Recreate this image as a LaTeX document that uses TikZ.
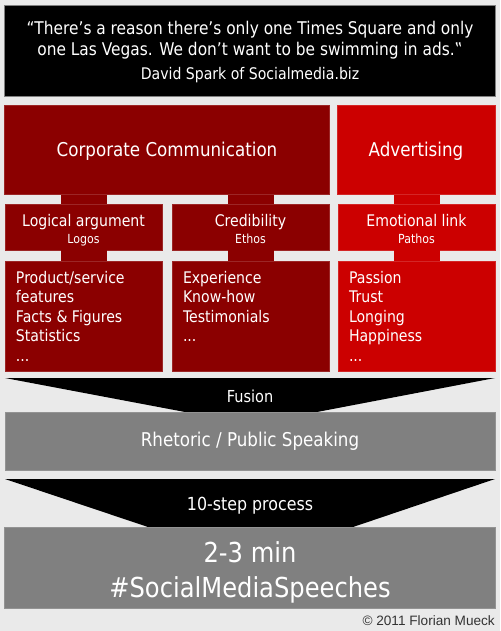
\documentclass[tikz,border=0pt]{standalone}
\usepackage{fontspec}
\setmainfont{DejaVu Sans}[FakeStretch=0.88]
\newfontfamily\copyfont{Liberation Sans}
\usetikzlibrary{positioning, calc}
\definecolor{pagegray}{HTML}{EAEAEA}
\definecolor{corpred}{HTML}{8B0000}
\definecolor{adred}{HTML}{CC0000}
\definecolor{speakgray}{HTML}{808080}
\tikzset{
  box/.style={rectangle, inner sep=0pt, text=white, align=center},
  stem/.style={line width=46pt},
  listtext/.style={anchor=north west, inner sep=0pt, text=white, align=left, font=\fontsize{16}{19.5}\selectfont},
}

\begin{document}
\begin{tikzpicture}[x=1pt, y=-1pt]
  % Page background
  \fill[pagegray] (0,0) rectangle (500,631);
  \useasboundingbox (0,0) rectangle (500,631);

  % Quote on black
  \node[box, fill=black, draw=gray, minimum width=491pt, minimum height=91pt] (quote) at (249.5,50.5) {};
  \node[text=white, align=center, font=\fontsize{17.5}{20.5}\selectfont] (quotetext) at (250,40) {“There’s a reason there’s only one Times Square and only\\one Las Vegas. We don’t want to be swimming in ads.‟};
  \node[text=white, font=\fontsize{16}{19}\selectfont] (author) at (250,75) {David Spark of Socialmedia.biz};

  % Top row: the two fields
  \node[box, fill=corpred, draw=corpred!85!white, minimum width=325pt, minimum height=89pt, font=\fontsize{19}{23}\selectfont] (corp) at (166.5,150) {};
  \node[box, fill=adred, draw=adred!85!white, minimum width=158pt, minimum height=89pt] (adv) at (416,150) {};
  \node[text=white, font=\fontsize{19}{23}\selectfont] (corptext) at (167,151) {Corporate Communication};
  \node[text=white, font=\fontsize{19}{23}\selectfont] (advtext) at (416,151) {Advertising};

  % Second row: logos, ethos, pathos
  \node[box, fill=corpred, draw=corpred!85!white, minimum width=157pt, minimum height=46pt] (logos) at (83.5,227) {};
  \node[box, fill=corpred, draw=corpred!85!white, minimum width=157pt, minimum height=46pt] (ethos) at (250.5,227) {};
  \node[box, fill=adred, draw=adred!85!white, minimum width=157pt, minimum height=46pt] (pathos) at (416.5,227) {};
  \foreach \name/\main/\sub in {logos/Logical argument/Logos, ethos/Credibility/Ethos, pathos/Emotional link/Pathos} {
    \node[text=white, inner sep=0pt, anchor=base, font=\fontsize{16}{19}\selectfont] (\name main) at ($(\name.north)+(0,23)$) {\main};
    \node[text=white, inner sep=0pt, anchor=base, font=\fontsize{12.5}{15}\selectfont] (\name sub) at ($(\name.north)+(0,40)$) {\sub};
  }

  % Third row: the lists
  \node[box, fill=corpred, draw=corpred!85!white, minimum width=157pt, minimum height=110pt] (logoslist) at (83.5,316) {};
  \node[box, fill=corpred, draw=corpred!85!white, minimum width=157pt, minimum height=110pt] (ethoslist) at (250.5,316) {};
  \node[box, fill=adred, draw=adred!85!white, minimum width=157pt, minimum height=110pt] (pathoslist) at (416.5,316) {};
  \node[listtext] (logositems) at ($(logoslist.north west)+(11,10)$) {Product/service\\features\\Facts \& Figures\\Statistics\\...};
  \node[listtext] (ethositems) at ($(ethoslist.north west)+(11,10)$) {Experience\\Know-how\\Testimonials\\...};
  \node[listtext] (pathositems) at ($(pathoslist.north west)+(11,10)$) {Passion\\Trust\\Longing\\Happiness\\...};

  % Stems between the rows
  \draw[stem, corpred] (logos.north) -- (logos.north |- corp.south);
  \draw[stem, corpred] (ethos.north) -- (ethos.north |- corp.south);
  \draw[stem, adred] (pathos.north) -- (pathos.north |- adv.south);
  \draw[stem, corpred] (logoslist.north) -- (logos.south);
  \draw[stem, corpred] (ethoslist.north) -- (ethos.south);
  \draw[stem, adred] (pathoslist.north) -- (pathos.south);

  % Fusion funnel
  \fill[black] (5,378) -- (495,378) -- (317,412) -- (185,412) -- cycle;
  \node[text=white, font=\fontsize{16.5}{19}\selectfont] (fusion) at (250,396) {Fusion};
  \node[box, fill=speakgray, draw=gray!85!white, minimum width=490pt, minimum height=58pt, font=\fontsize{19}{23}\selectfont] (rhet) at (250,441) {Rhetoric / Public Speaking};

  % Process funnel
  \fill[black] (5,479) -- (495,479) -- (353,527) -- (148,527) -- cycle;
  \node[text=white, font=\fontsize{18}{21}\selectfont] (process) at (250,506) {10-step process};
  \node[box, fill=speakgray, draw=gray!85!white, minimum width=491pt, minimum height=81pt] (speeches) at (249.5,567.5) {};
  \node[text=white, align=center, font=\fontsize{27.5}{35}\selectfont] (speechestext) at (250,572) {2-3 min\\\#SocialMediaSpeeches};

  % Credit
  \node[anchor=east, inner sep=0pt, font=\copyfont\fontsize{13.6}{16}\selectfont, text=black!80] (credit) at (495,621) {© 2011 Florian Mueck};
\end{tikzpicture}
\end{document}
